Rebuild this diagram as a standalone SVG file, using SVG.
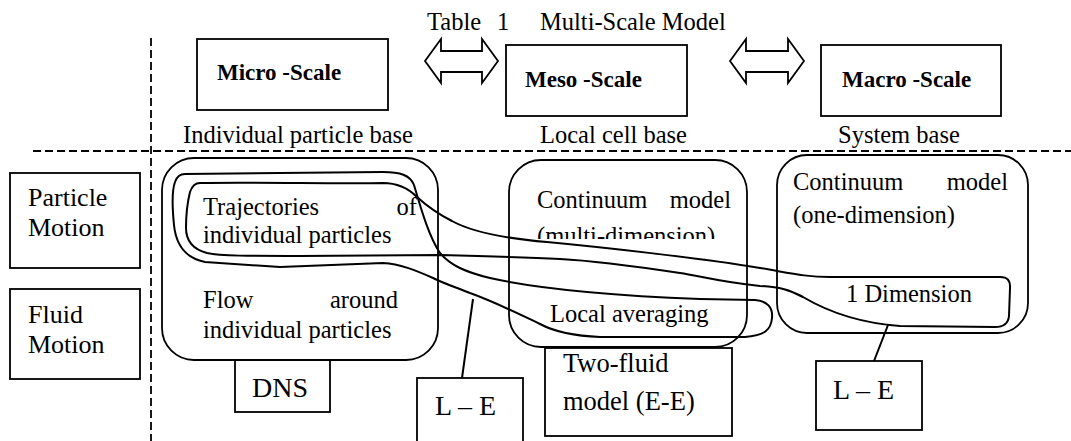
<svg xmlns="http://www.w3.org/2000/svg" width="1071" height="441" viewBox="0 0 1071 441">
<style>
.t{font-family:"Liberation Serif","Times New Roman",serif;font-size:24.5px;fill:#000}
.e{text-anchor:end}
.l{font-size:26px}
.k{font-size:28px}
.m{font-size:26.5px}
.b{font-family:"Liberation Serif","Times New Roman",serif;font-size:23px;font-weight:bold;fill:#000}
.box{fill:none;stroke:#000;stroke-width:1.8}
.ln{fill:none;stroke:#000;stroke-width:2}
.dash{fill:none;stroke:#000;stroke-width:1.8;stroke-dasharray:8 4}
</style>
<defs>
<clipPath id="cutMulti"><rect x="520" y="220" width="220" height="19"/></clipPath>
</defs>
<rect width="1071" height="441" fill="#fff"/>

<g id="title">
<text class="t" x="427" y="30">Table</text>
<text class="t" x="497" y="30">1</text>
<text class="t" x="540" y="30">Multi-Scale Model</text>
</g>

<g id="dividers">
<line class="dash" x1="151" y1="38" x2="151" y2="441"/>
<line class="dash" x1="33" y1="151" x2="1071" y2="151"/>
</g>

<g id="micro-scale">
<rect class="box" x="197" y="39" width="191" height="71"/>
<text class="b" x="217" y="80">Micro -Scale</text>
<text class="t" x="183" y="143">Individual particle base</text>
</g>
<g id="meso-scale">
<rect class="box" x="506" y="45" width="181" height="71"/>
<text class="b" x="525" y="87">Meso -Scale</text>
<text class="t" x="540" y="143">Local cell base</text>
</g>
<g id="macro-scale">
<rect class="box" x="821" y="45" width="180" height="71"/>
<text class="b" x="842" y="87">Macro -Scale</text>
<text class="t" x="838" y="143">System base</text>
</g>

<g id="particle-motion">
<rect class="box" x="10" y="173" width="130" height="95"/>
<text class="t l" x="28" y="206">Particle</text>
<text class="t l" x="28" y="236">Motion</text>
</g>
<g id="fluid-motion">
<rect class="box" x="10" y="289" width="130" height="90"/>
<text class="t l" x="28" y="323">Fluid</text>
<text class="t l" x="28" y="353">Motion</text>
</g>

<g id="micro-model">
<rect class="box" x="162" y="158" width="276" height="202" rx="32"/>
<text class="t" x="203" y="215">Trajectories</text>
<text class="t e" x="417" y="215">of</text>
<text class="t" x="203" y="243">individual particles</text>
<text class="t" x="203" y="308">Flow</text>
<text class="t e" x="398" y="308">around</text>
<text class="t" x="203" y="338">individual particles</text>
</g>
<g id="meso-model">
<rect class="box" x="509" y="160" width="238" height="187" rx="32"/>
<text class="t" x="537" y="208">Continuum</text>
<text class="t e" x="731" y="208">model</text>
<text class="t" x="537" y="244" clip-path="url(#cutMulti)">(multi-dimension)</text>
<text class="t" x="550" y="322">Local averaging</text>
</g>
<g id="macro-model">
<rect class="box" x="777" y="155" width="251" height="178" rx="30"/>
<text class="t" x="793" y="190">Continuum</text>
<text class="t e" x="1008" y="190">model</text>
<text class="t" x="793" y="223">(one-dimension)</text>
<text class="t" x="846" y="302">1 Dimension</text>
</g>

<g id="dns">
<rect class="box" x="235" y="360" width="95" height="52"/>
<text class="t k" x="252" y="397">DNS</text>
</g>
<g id="le-micro">
<rect class="box" x="417" y="378" width="106" height="70"/>
<text class="t k" x="435" y="415">L – E</text>
</g>
<g id="two-fluid">
<rect class="box" x="545" y="348" width="187" height="88"/>
<text class="t m" x="563" y="372">Two-fluid</text>
<text class="t m" x="563" y="410">model (E-E)</text>
</g>
<g id="le-macro">
<rect class="box" x="816" y="361" width="106" height="69"/>
<text class="t k" x="833" y="399">L – E</text>
</g>

<g id="connectors">
<path class="box" d="M425,61 L441,39 L441,51 L482,51 L482,39 L498,61 L482,83 L482,72 L441,72 L441,83 Z"/>
<path class="box" d="M730,61 L746,39 L746,51 L788,51 L788,39 L804,61 L788,83 L788,72 L746,72 L746,83 Z"/>
<path class="ln" d="M200,183 C260,182 340,184 383,183 C400,183 410,190 417,197 C428,207 440,215 452,221 C470,231 500,238 547,242 C600,247 700,258 760,268 C790,273 805,277 830,277 L1000,277 Q1011,277 1010,288 L1009,316 Q1008,327 995,327 L900,326 C860,323 830,313 803,297 C790,290 780,287 760,286 C720,282 700,276 680,273 C640,267 600,261 560,259 C520,257 480,256 440,255 L300,256 C250,256 220,256 207,253 C192,249 186,240 186,228 C186,215 188,200 190,192 C192,186 195,183 200,183 Z"/>
<path class="ln" d="M185,174 L383,172 C400,172 410,175 414,185 C420,205 428,235 440,253 C450,265 465,272 490,278 C530,287 600,295 700,299 L755,300 C768,301 773,308 772,318 C771,330 765,335 745,337 L600,337 C575,336 555,332 540,324 C515,312 495,302 470,293 C455,287 445,284 433,278 C415,270 400,264 383,263 L280,267 L205,262 C185,258 176,245 174,225 C172,205 172,190 175,182 C177,176 180,174 185,174 Z"/>
<line class="ln" x1="462" y1="378" x2="473" y2="299"/>
<line class="ln" x1="874" y1="361" x2="888" y2="325"/>
</g>
</svg>
